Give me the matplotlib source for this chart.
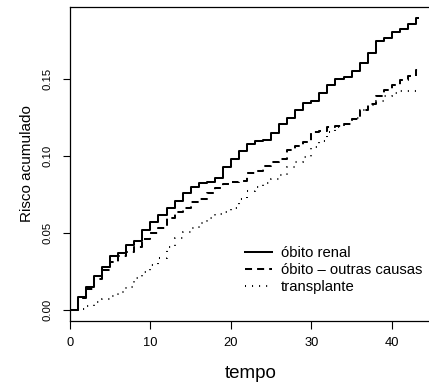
import numpy as np
import matplotlib
matplotlib.use("Agg")
import matplotlib.pyplot as plt

plt.rcParams['font.family'] = ['Liberation Sans', 'DejaVu Sans']

# tempos dos saltos (0..43) e fim da curva
tempo = list(range(0, 44))
t_fim = 43.2

obito_renal = [0.0, 0.0086, 0.015, 0.022, 0.0278, 0.035, 0.037, 0.042, 0.045, 0.052,
               0.057, 0.0617, 0.0666, 0.071, 0.0757, 0.080, 0.0823, 0.0834, 0.086, 0.093,
               0.098, 0.1034, 0.108, 0.110, 0.1105, 0.1153, 0.1205, 0.125, 0.130, 0.1346,
               0.136, 0.141, 0.146, 0.150, 0.1515, 0.155, 0.1607, 0.167, 0.1747, 0.1764,
               0.1807, 0.1822, 0.1855, 0.1894]

obito_outras = [0.0, 0.008, 0.014, 0.020, 0.026, 0.031, 0.035, 0.038, 0.041, 0.046,
                0.050, 0.053, 0.0595, 0.0634, 0.066, 0.070, 0.072, 0.0758, 0.0795, 0.0818,
                0.0833, 0.084, 0.089, 0.0905, 0.0935, 0.0963, 0.098, 0.104, 0.1067, 0.1093,
                0.1155, 0.1164, 0.119, 0.1197, 0.121, 0.124, 0.130, 0.134, 0.139, 0.1429,
                0.146, 0.1494, 0.152, 0.156]

transplante = [0.0, 0.0006, 0.0026, 0.005, 0.007, 0.009, 0.012, 0.015, 0.0206, 0.025,
               0.029, 0.034, 0.041, 0.047, 0.0505, 0.0535, 0.0565, 0.060, 0.0625, 0.064,
               0.0663, 0.072, 0.077, 0.080, 0.0825, 0.085, 0.088, 0.093, 0.096, 0.0995,
               0.106, 0.110, 0.1155, 0.119, 0.121, 0.1245, 0.130, 0.133, 0.136, 0.139,
               0.1407, 0.142, 0.142, 0.142]

rotulos = ["óbito renal", "óbito – outras causas", "transplante"]
y_ticks = [0.0, 0.05, 0.10, 0.15]
y_tick_labels = ["0.00", "0.05", "0.10", "0.15"]
x_ticks = [0, 10, 20, 30, 40]

W, H = 429, 383
fig = plt.figure(figsize=(W / 100, H / 100), dpi=100)
ax = fig.add_axes([70 / W, 1 - 321 / H, 362 / W, 314 / H])

t = np.array(tempo + [t_fim])
lw = 1.45
ax.step(t, obito_renal + [obito_renal[-1]], where='post', color='black', lw=lw,
        label=rotulos[0])
ax.step(t, obito_outras + [obito_outras[-1]], where='post', color='black', lw=lw,
        dashes=(3.5, 2.5), label=rotulos[1])
ax.step(t, transplante + [transplante[-1]], where='post', color='black', lw=lw,
        dashes=(0.5, 3.0), label=rotulos[2])

ax.set_xlim(0, 45)
ax.set_ylim(-0.0071, 0.1968)
ax.set_xticks(x_ticks)
ax.set_xticklabels([str(v) for v in x_ticks])
ax.set_yticks(y_ticks)
ax.set_yticklabels(y_tick_labels, rotation=90, va='center')
ax.tick_params(direction='out', length=5.4, width=0.8, pad=6)
ax.tick_params(axis='x', labelsize=9.3)
ax.tick_params(axis='y', labelsize=8.2, pad=7)
for s in ax.spines.values():
    s.set_linewidth(0.9)

ax.set_xlabel("tempo", fontsize=13.5, labelpad=12)
ax.set_ylabel("Risco acumulado", fontsize=11, labelpad=6)

ax.legend(loc='upper left', bbox_to_anchor=(245 / W, 1 - 246 / H),
          bbox_transform=fig.transFigure, frameon=False, fontsize=10.7,
          borderpad=0, borderaxespad=0, handlelength=1.85, handletextpad=0.58,
          labelspacing=0.2)

fig.savefig("out.png", dpi=100)
